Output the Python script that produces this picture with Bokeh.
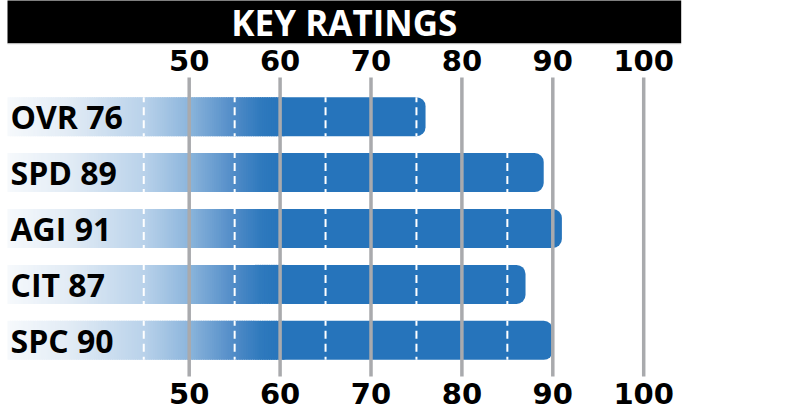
import numpy as np
from bokeh.plotting import figure
from bokeh.models import Range1d
from bokeh.core.properties import value
from bokeh.embed import file_html
from bokeh.resources import INLINE

# ---------------- data ----------------
title = "KEY RATINGS"
categories = ["OVR", "SPD", "AGI", "CIT", "SPC"]
ratings = [76, 89, 91, 87, 90]
tick_values = [50, 60, 70, 80, 90, 100]
tick_labels = ["50", "60", "70", "80", "90", "100"]
minor_values = [45, 55, 65, 75, 85]

# ---------------- layout ----------------
W, H = 780, 410
PX = 9.09                     # pixels per rating point
X0 = 50 - 188.7 / PX          # rating at the left edge of the figure
X1 = X0 + W / PX
TOP, BOTTOM = 0, H            # y range in pixels (flipped)

BAR_Y0 = 116.2
BAR_STEP = 55.9
BAR_H = 39
BAR_START = X0 + 7 / PX
GRAD_END = 60.5
BLUE = "#2674bb"

p = figure(width=W, height=H, x_range=Range1d(X0, X1), y_range=Range1d(BOTTOM, TOP),
           output_backend="svg", toolbar_location=None, min_border=0,
           x_axis_type=None, y_axis_type=None)
p.grid.visible = False
p.outline_line_color = None
p.background_fill_color = "white"
p.border_fill_color = "white"

# title bar
bar_left = X0 + 7 / PX
bar_right = X0 + 680.7 / PX
p.quad(left=[bar_left], right=[bar_right], top=[TOP - 1], bottom=[42.7],
       fill_color="black", line_color=None)
p.segment(x0=[bar_left], x1=[bar_right], y0=[43.2], y1=[43.2],
          line_color="#b8b8b8", line_width=1)
p.text(x=[(bar_left + bar_right) / 2], y=[21.5], text=[title],
       text_font=value("Open Sans"), text_font_style="bold", text_font_size="35px",
       text_color="white", text_align="center", text_baseline="middle")

centers = [BAR_Y0 + i * BAR_STEP for i in range(len(categories))]

# gradient part of the bars
stop_v = [BAR_START, 37.0, 45.0, 50.0, 55.0, 58.0, GRAD_END]
stop_c = np.array([(246, 249, 252), (225, 235, 245), (185, 210, 234), (140, 181, 220),
                   (80, 139, 199), (46, 121, 189), (38, 116, 187)], dtype=float)
step = 0.25
lefts = np.arange(BAR_START, GRAD_END, step)
seg_colors = []
for l in lefts:
    c = [int(round(np.interp(l + step / 2, stop_v, stop_c[:, k]))) for k in range(3)]
    seg_colors.append("#%02x%02x%02x" % tuple(c))
gy, gl, gr, gc = [], [], [], []
for yc in centers:
    for i, (l, c) in enumerate(zip(lefts, seg_colors)):
        gy.append(yc)
        gl.append(l)
        gr.append(min(l + step * 1.6, GRAD_END + 0.05))
        gc.append(c)
p.hbar(y=gy, left=gl, right=gr, height=BAR_H, fill_color=gc, line_color=None)

# solid part of the bars, rounded right end
p.hbar(y=centers, left=[GRAD_END] * len(centers), right=ratings, height=BAR_H,
       fill_color=BLUE, line_color=None, border_radius=(0, 9, 9, 0))

# white dashed lines inside bars
dx, dy0, dy1 = [], [], []
for yc, r in zip(centers, ratings):
    for m in minor_values:
        if m < r - 0.5:
            dx.append(m)
            dy0.append(yc - BAR_H / 2)
            dy1.append(yc + BAR_H / 2)
p.segment(x0=dx, x1=dx, y0=dy0, y1=dy1, line_color="white", line_width=2,
          line_dash="8 5", line_dash_offset=3)

# gray grid lines
p.segment(x0=tick_values, x1=tick_values, y0=[77] * len(tick_values), y1=[376] * len(tick_values),
          line_color="#a9aaad", line_width=3.5)

# category labels
labels = [f"{c} {r}" for c, r in zip(categories, ratings)]
p.text(x=[X0 + 10 / PX] * len(labels), y=centers, text=labels,
       text_font=value("Open Sans"), text_font_style="bold", text_font_size="32px",
       text_color="black", text_align="left", text_baseline="middle")

# tick labels top and bottom
for ty in (60, 392.5):
    p.text(x=tick_values, y=[ty] * len(tick_values), text=tick_labels,
           text_font=value("DejaVu Sans"), text_font_style="bold", text_font_size="29px",
           text_color="black", text_align="center", text_baseline="middle")

open("out.html", "w").write(file_html(p, INLINE))
